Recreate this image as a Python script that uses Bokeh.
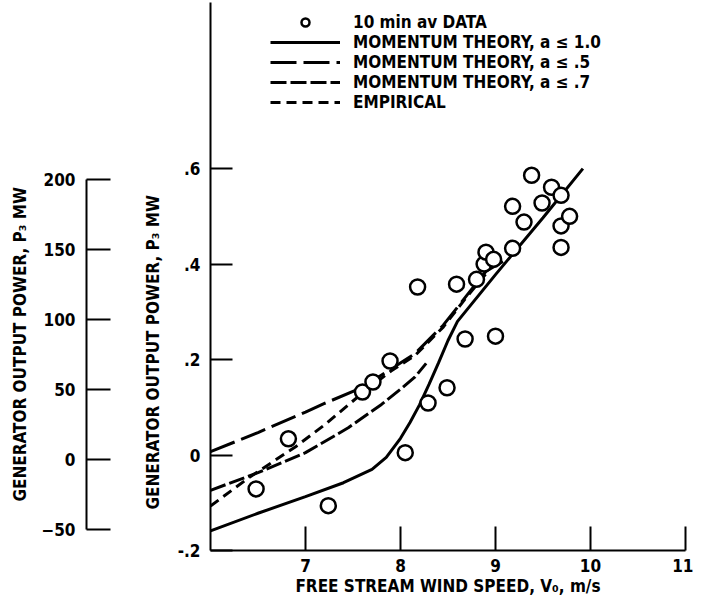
from bokeh.plotting import figure
from bokeh.models import (Range1d, FixedTicker, Legend, LegendItem, LinearAxis, Title)
from bokeh.embed import file_html
from bokeh.resources import INLINE

# ---------------- data ----------------
data_v = [6.48, 6.82, 7.24, 7.60, 7.71, 7.89, 8.05, 8.18, 8.29, 8.49, 8.59, 8.68, 8.80,
          8.88, 8.90, 8.98, 9.00, 9.18, 9.18, 9.30, 9.38, 9.49, 9.59, 9.69, 9.69, 9.78, 9.69]
data_p = [-0.071, 0.034, -0.106, 0.132, 0.153, 0.197, 0.005, 0.352, 0.109, 0.141, 0.358,
          0.243, 0.368, 0.400, 0.425, 0.410, 0.249, 0.521, 0.433, 0.488, 0.586, 0.528,
          0.561, 0.544, 0.480, 0.500, 0.435]

mt10_v = [6.0, 6.5, 7.0, 7.4, 7.7, 7.85, 8.0, 8.1, 8.2, 8.3, 8.4, 8.5, 8.6, 9.0, 9.5, 9.92]
mt10_p = [-0.159, -0.122, -0.087, -0.058, -0.030, -0.005, 0.035, 0.068, 0.105, 0.148,
          0.193, 0.240, 0.280, 0.378, 0.497, 0.600]

mt05_v = [6.0, 6.5, 7.0, 7.2, 7.6, 7.9, 8.15, 8.45, 8.7, 8.9, 9.1]
mt05_p = [0.007, 0.047, 0.090, 0.108, 0.142, 0.180, 0.212, 0.272, 0.335, 0.385, 0.408]

mt07_v = [6.0, 6.5, 7.0, 7.45, 7.8, 8.0, 8.15, 8.27]
mt07_p = [-0.074, -0.037, 0.005, 0.057, 0.106, 0.138, 0.163, 0.192]

emp_v = [6.0, 6.4, 6.9, 7.2, 7.6, 7.9, 8.15, 8.45, 8.7, 8.9]
emp_p = [-0.107, -0.048, 0.018, 0.063, 0.130, 0.176, 0.208, 0.268, 0.332, 0.380]

x_ticks = [7, 8, 9, 10, 11]
mw_ticks = [-0.2, 0.0, 0.2, 0.4, 0.6]
mw_labels = ["-.2", "0", ".2", ".4", ".6"]
kw_ticks = [-50, 0, 50, 100, 150, 200]

legend_labels = ["10 min av DATA", "MOMENTUM THEORY, a \u2264 1.0", "MOMENTUM THEORY, a \u2264 .5",
                 "MOMENTUM THEORY, a \u2264 .7", "EMPIRICAL"]
y_title = "GENERATOR OUTPUT POWER, P\u2083 MW"
x_title = "FREE STREAM WIND SPEED, V\u2080, m/s"

FONT = "Liberation Sans Narrow, DejaVu Sans Condensed, Liberation Sans, sans-serif"


def style_axis(ax, size="17px"):
    ax.major_label_text_font = FONT
    ax.major_label_text_font_style = "bold"
    ax.major_label_text_font_size = size
    ax.major_label_text_color = "black"
    ax.axis_label_text_font = FONT
    ax.axis_label_text_font_style = "bold"
    ax.axis_label_text_font_size = "17px"
    ax.axis_label_text_color = "black"
    ax.axis_line_width = 2
    ax.major_tick_line_width = 2
    ax.axis_line_color = "black"
    ax.major_tick_line_color = "black"
    ax.minor_tick_line_color = None
    ax.major_tick_out = 0


p = figure(width=693, height=602, x_range=Range1d(6, 11), y_range=Range1d(-0.2, 0.948),
           output_backend="svg", toolbar_location=None,
           min_border_left=207, min_border_right=8, min_border_top=2, min_border_bottom=52)
p.outline_line_color = None
p.grid.visible = False
p.extra_y_ranges = {"kw": Range1d(-65, 326.43)}

# x axis
xa = p.xaxis[0]
style_axis(xa)
xa.ticker = FixedTicker(ticks=x_ticks)
xa.major_tick_in = 24
xa.major_label_standoff = 8
xa.axis_label = x_title
xa.axis_label_standoff = 1

# inner (MW) axis
yb = p.yaxis[0]
style_axis(yb)
yb.ticker = FixedTicker(ticks=mw_ticks)
yb.major_label_overrides = {t: l for t, l in zip(mw_ticks, mw_labels)}
yb.major_tick_in = 22
yb.major_label_standoff = 10

# title of the MW axis
t_in = Title(text=y_title, align="left", offset=41, vertical_align="middle", standoff=22,
             text_font=FONT, text_font_style="bold", text_font_size="17px", text_color="black")
p.add_layout(t_in, "left")

# empty gap between the two scales: a blank axis whose single white tick reserves the width
gap = LinearAxis(y_range_name="kw", ticker=FixedTicker(ticks=[-60]), axis_line_color="white",
                 major_tick_line_color="white", minor_tick_line_color=None,
                 major_tick_out=44, major_tick_in=0, major_label_standoff=0,
                 major_label_overrides={-60: ""}, major_label_text_font_size="1px")
p.add_layout(gap, "left")

# outer scale
ya = LinearAxis(y_range_name="kw")
style_axis(ya)
ya.ticker = FixedTicker(ticks=kw_ticks)
ya.bounds = (-50, 200)
ya.major_tick_in = 24
ya.major_label_standoff = 11
p.add_layout(ya, "left")

t_out = Title(text=y_title, align="left", offset=49, vertical_align="middle", standoff=16,
              text_font=FONT, text_font_style="bold", text_font_size="17px", text_color="black")
p.add_layout(t_out, "left")

r10 = p.line(mt10_v, mt10_p, line_color="black", line_width=3)
r05 = p.line(mt05_v, mt05_p, line_color="black", line_width=3, line_dash="26 7")
r07 = p.line(mt07_v, mt07_p, line_color="black", line_width=3, line_dash="16 4")
remp = p.line(emp_v, emp_p, line_color="black", line_width=3, line_dash="10 6")
rdat = p.scatter(data_v, data_p, marker="circle", size=15, line_color="black",
                 line_width=2.5, fill_color="white")

legend = Legend(items=[LegendItem(label=legend_labels[0], renderers=[rdat]),
                       LegendItem(label=legend_labels[1], renderers=[r10]),
                       LegendItem(label=legend_labels[2], renderers=[r05]),
                       LegendItem(label=legend_labels[3], renderers=[r07]),
                       LegendItem(label=legend_labels[4], renderers=[remp])],
                location=(60, 438), orientation="vertical", padding=0, margin=0, spacing=0,
                glyph_width=70, glyph_height=20, label_height=20, label_standoff=13,
                border_line_color=None, background_fill_alpha=0,
                label_text_font=FONT, label_text_font_style="bold",
                label_text_font_size="17px", label_text_color="black")
p.add_layout(legend)

open("out.html", "w").write(file_html(p, INLINE))
